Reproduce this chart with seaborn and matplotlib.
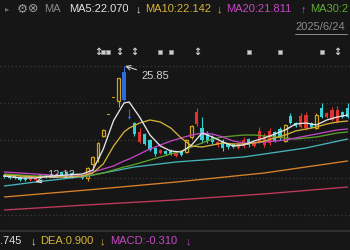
import matplotlib
matplotlib.use("Agg")
import matplotlib.pyplot as plt
import seaborn as sns
import numpy as np
from matplotlib.lines import Line2D

# ---------------- data ----------------
# candle kind: d = down (cyan), u = up (red), y = limit/gold (hollow), b = blue
kinds = ["d", "d", "d", "d", "d", "u", "u", "d", "d", "d", "u", "d", "d", "d", "u", "d",
         "y", "y", "y", "y", "y", "y", "y", "b", "b", "d", "u", "d", "d", "d", "u", "d",
         "d", "u", "d", "y", "y", "u", "d", "d", "d", "u", "d", "d", "d", "u", "u", "d",
         "u", "u", "u", "u", "d", "d", "y", "d", "d", "u", "u", "d", "y", "d", "u", "u",
         "u", "d", "d"]
opens = [12.95, 12.83, 12.83, 12.72, 12.60, 12.36, 12.36, 12.95, 12.95, 13.07, 12.83, 13.31,
         13.31, 13.19, 12.83, 12.95, 12.60, 14.25, 14.96, 17.57, 20.05, 22.06, 21.71, 25.14,
         19.70, 19.10, 16.86, 17.80, 17.09, 16.15, 15.55, 15.79, 15.91, 15.20, 15.67, 15.67,
         17.45, 18.99, 18.51, 17.92, 17.45, 16.50, 16.97, 16.62, 16.62, 16.15, 16.38, 17.21,
         16.38, 16.86, 16.50, 16.74, 18.04, 18.39, 16.97, 19.93, 19.10, 18.63, 18.51, 19.10,
         18.51, 20.88, 19.81, 19.46, 19.22, 20.41, 20.88]
highs = [13.07, 12.95, 12.95, 12.83, 12.72, 12.83, 12.72, 13.07, 13.07, 13.19, 13.19, 13.42,
         13.42, 13.31, 13.07, 13.07, 13.90, 15.20, 16.86, 18.39, 20.05, 22.06, 24.43, 25.85,
         20.76, 19.22, 18.51, 17.92, 17.21, 16.26, 16.03, 15.91, 16.03, 15.67, 15.79, 17.21,
         18.87, 20.88, 19.81, 18.16, 17.68, 16.97, 17.21, 16.74, 16.74, 16.74, 17.45, 17.33,
         16.97, 18.63, 17.92, 18.51, 18.16, 18.63, 18.99, 20.29, 19.22, 20.29, 20.41, 19.22,
         20.29, 21.47, 20.41, 21.00, 21.12, 20.52, 21.47]
lows = [12.60, 12.48, 12.48, 12.24, 12.20, 12.24, 12.12, 12.60, 12.60, 12.72, 12.72, 12.83,
        12.95, 12.83, 12.72, 12.48, 12.24, 13.54, 14.49, 17.45, 20.05, 22.06, 21.00, 21.71,
        19.58, 17.57, 16.74, 16.50, 15.79, 15.20, 15.44, 15.32, 15.32, 15.08, 15.20, 15.55,
        17.21, 18.75, 16.74, 16.74, 16.62, 16.26, 15.79, 16.03, 16.15, 16.03, 16.15, 16.26,
        16.26, 16.74, 16.26, 16.50, 16.86, 17.09, 16.86, 18.99, 18.63, 18.51, 18.28, 18.51,
        18.39, 19.70, 19.70, 19.34, 19.10, 19.70, 19.70]
closes = [12.72, 12.60, 12.60, 12.36, 12.30, 12.72, 12.60, 12.72, 12.72, 12.83, 13.07, 12.95,
          13.07, 12.95, 12.95, 12.60, 13.78, 15.08, 16.74, 18.28, 20.05, 22.06, 24.43, 21.83,
          19.66, 17.80, 18.04, 16.62, 15.91, 15.44, 15.91, 15.44, 15.44, 15.55, 15.32, 17.09,
          18.75, 20.41, 17.09, 16.97, 16.86, 16.86, 16.15, 16.26, 16.26, 16.62, 17.09, 16.50,
          16.86, 18.16, 17.57, 18.16, 16.97, 17.33, 18.87, 19.10, 18.75, 19.93, 20.05, 18.63,
          20.05, 19.81, 20.29, 20.64, 20.64, 19.81, 19.81]

ma_idx = [0, 3, 6, 9, 12, 15, 17, 19, 21, 23, 24, 26, 28, 30, 32, 34, 36, 38, 40, 42, 44,
          46, 48, 50, 52, 54, 56, 58, 60, 62, 64, 66]
ma5 = [12.83, 12.60, 12.60, 12.83, 12.95, 13.07, 13.54, 16.00, 19.40, 21.47, 21.59, 19.81,
       17.68, 16.38, 15.79, 15.67, 16.50, 17.92, 17.45, 16.86, 16.38, 16.50, 16.97, 17.33,
       17.80, 18.28, 18.99, 19.10, 18.87, 19.46, 19.81, 20.05]
ma10 = [12.95, 12.83, 12.72, 12.72, 12.72, 12.83, 13.19, 14.25, 16.38, 18.04, 18.51, 19.10,
        19.46, 19.22, 18.51, 17.33, 16.38, 16.26, 16.50, 16.74, 16.62, 16.62, 16.74, 16.97,
        17.33, 17.68, 18.16, 18.39, 18.63, 18.99, 19.22, 19.34]
ma20 = [13.31, 13.19, 13.07, 12.95, 12.83, 12.83, 13.31, 13.66, 14.02, 14.61, 14.84, 15.44,
        16.03, 16.50, 16.97, 17.33, 17.68, 17.92, 17.80, 17.45, 16.97, 16.74, 16.74, 16.86,
        16.97, 17.09, 17.33, 17.57, 17.80, 18.04, 18.28, 18.39]
ma30 = [13.07, 12.95, 12.83, 12.83, 12.72, 12.83, 12.95, 13.19, 13.54, 13.90, 14.02, 14.37,
        14.73, 15.08, 15.44, 15.79, 16.26, 16.74, 17.21, 17.45, 17.57, 17.68, 17.68, 17.57,
        17.45, 17.33, 17.21, 17.33, 17.45, 17.68, 17.92, 18.04]
ma60_idx = [0, 6, 16, 19, 25, 33, 46, 58, 66]
ma60 = [11.65, 12.12, 12.83, 13.19, 13.90, 14.49, 15.08, 16.15, 17.21]
ma120_idx = [0, 16, 33, 50, 66]
ma120 = [10.35, 11.18, 12.12, 13.19, 14.61]
ma250_idx = [0, 16, 33, 50, 66]
ma250 = [8.81, 9.41, 10.00, 10.71, 11.53]

marker_idx = [18, 19, 20, 22, 25, 30, 32, 37, 47, 53, 61, 64]
marker_kind = ["a", "s", "s", "a", "a", "s", "s", "a", "s", "s", "s", "a"]

high_idx, high_val = 23, 25.85
low_idx, low_val = 6, 12.12

grid_levels = [25.85, 21.47, 17.09, 12.60, 8.20]

# ---------------- style ----------------
BG = "#161616"
C_UP = "#e0322f"
C_DN = "#38d0d2"
C_Y = "#d4a21a"
C_B = "#2c6bd9"
kind_col = {"u": C_UP, "d": C_DN, "y": C_Y, "b": C_B}

sns.set_style("dark", {"axes.facecolor": BG, "figure.facecolor": BG})
plt.rcParams["font.family"] = ["Liberation Sans", "DejaVu Sans"]

W, H = 350, 250
fig = plt.figure(figsize=(3.5, 2.5), dpi=100, facecolor=BG)
ax = fig.add_axes([0, 0, 1, 1])
ax.set_facecolor(BG)

for g in grid_levels:
    ax.axhline(g, color="#3a3a3a", lw=0.9, ls=(0, (1, 2)), zorder=1)

# ---------------- candles ----------------
x = np.arange(len(opens))
o = np.array(opens); c = np.array(closes); hi = np.array(highs); lo = np.array(lows)
cols = [kind_col[k] for k in kinds]
ax.vlines(x, lo, hi, colors=cols, lw=0.8, zorder=3)
bottoms = np.minimum(o, c)
heights = np.maximum(np.abs(c - o), 0.13)
for xi, b, h, k in zip(x, bottoms, heights, kinds):
    if k == "y" and h > 0.3:
        ax.bar(xi, h, bottom=b, width=0.55, facecolor=BG, edgecolor=C_Y, lw=0.9, zorder=3.5)
    else:
        ax.bar(xi, h, bottom=b, width=0.6, color=kind_col[k], lw=0, zorder=3.5)

# ---------------- moving averages ----------------
lw = 0.95
sns.lineplot(x=ma250_idx, y=ma250, ax=ax, color="#c23b5e", lw=lw, zorder=4)
sns.lineplot(x=ma120_idx, y=ma120, ax=ax, color="#d9822b", lw=lw, zorder=4)
sns.lineplot(x=ma60_idx, y=ma60, ax=ax, color="#46b4b8", lw=lw, zorder=4)
sns.lineplot(x=ma_idx, y=ma30, ax=ax, color="#5c9e2a", lw=lw, zorder=4)
sns.lineplot(x=ma_idx, y=ma20, ax=ax, color="#c243c4", lw=lw, zorder=4)
sns.lineplot(x=ma_idx, y=ma10, ax=ax, color="#d2b03a", lw=lw, zorder=4)
sns.lineplot(x=ma_idx, y=ma5, ax=ax, color="#e6e6e6", lw=lw, zorder=4)
ax.set_xlim(-0.846, 66.46)
ax.set_ylim(4.075, 33.66)
ax.set_axis_off()

# ---------------- event markers ----------------
mk_y = 27.5
for mi, mkind in zip(marker_idx, marker_kind):
    if mkind == "s":
        ax.scatter([mi], [mk_y], marker="s", s=8, color="#d0d0d0", edgecolor="#8a8a8a",
                   lw=0.6, zorder=5)
    else:
        ax.text(mi, mk_y, "↕", color="#cfcfcf", fontsize=7, ha="center", va="center",
                family=["DejaVu Sans"], fontweight="bold", zorder=5)

# ---------------- high / low annotations ----------------
ax.annotate(f"{high_val:.2f}", xy=(high_idx + 0.2, high_val), xytext=(11.5, -7),
            textcoords="offset points", color="#d0d0d0", fontsize=8, ha="left", va="center",
            arrowprops=dict(arrowstyle="->", color="#d0d0d0", lw=0.8,
                            shrinkA=1, shrinkB=0), zorder=6)
ax.annotate(f"{low_val:.2f}", xy=(low_idx, low_val), xytext=(8, 5),
            textcoords="offset points", color="#d8d8d8", alpha=0.85, fontsize=8,
            ha="left", va="center",
            arrowprops=dict(arrowstyle="->", color="#e0e0e0", lw=0.8,
                            shrinkA=1, shrinkB=0), zorder=6)

# ---------------- header / footer texts ----------------
def ftext(px, py, s, col, fs=8, **kw):
    fig.text(px / W, 1 - py / H, s, color=col, fontsize=fs, ha="left", va="center", **kw)

hy = 9
ftext(5, hy, "▸", "#6e6e6e", fs=6, family=["DejaVu Sans"])
ftext(17, hy, "⚙", "#9a9a9a", fs=9, family=["DejaVu Sans"])
ftext(28, hy, "⊗", "#9a9a9a", fs=9, family=["DejaVu Sans"])
ftext(44, hy, "MA", "#8a8a8a")
ftext(69, hy, "MA5:22.070", "#e2e2e2")
ftext(136, hy, "↓", "#e2e2e2")
ftext(145, hy, "MA10:22.142", "#d6b43a")
ftext(217, hy, "↓", "#d6b43a")
ftext(226, hy, "MA20:21.811", "#c548c6")
ftext(301, hy, "↑", "#c548c6")
ftext(310, hy, "MA30:2", "#5fae30")

ftext(295, 27.5, "2025/6/24", "#8c8c8c")
fig.add_artist(Line2D([295 / W, 347 / W], [1 - 33.5 / H, 1 - 33.5 / H],
                      color="#8c8c8c", lw=0.7))

fig.add_artist(Line2D([0, 1], [1 - 230.5 / H, 1 - 230.5 / H], color="#2f2f2f", lw=1.5))

by = 241.5
ftext(0, by, ".745", "#dcdcdc")
ftext(31, by, "↓", "#dcdcdc")
ftext(40, by, "DEA:0.900", "#d6b43a")
ftext(100, by, "↓", "#d6b43a")
ftext(110, by, "MACD:-0.310", "#c548c6")
ftext(186, by, "↓", "#c548c6")

fig.savefig("out.png", dpi=100, facecolor=BG)
